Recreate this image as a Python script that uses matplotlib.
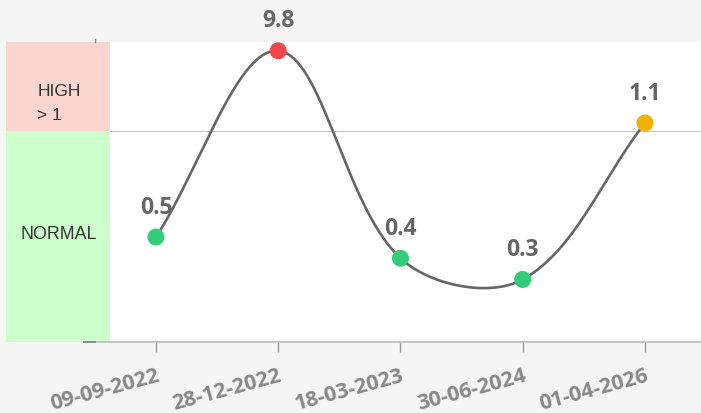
import numpy as np
import matplotlib
matplotlib.use("Agg")
import matplotlib.pyplot as plt
from matplotlib.lines import Line2D

dates = ["09-09-2022", "28-12-2022", "18-03-2023", "30-06-2024", "01-04-2026"]
values = [0.5, 9.8, 0.4, 0.3, 1.1]
point_colors = ["#33cc7a", "#f2464c", "#33cc7a", "#33cc7a", "#f0b400"]
threshold = 1.0

# y scale: linear below the threshold, compressed (1 - 1/v) above it
K = 0.4216

def forward(v):
    v = np.asarray(v, dtype=float)
    safe = np.where(v > threshold, v, 1.0)
    return np.where(v <= threshold, v, threshold + K * (1 - 1 / safe))

def inverse(y):
    y = np.asarray(y, dtype=float)
    r = np.clip((y - threshold) / K, -1e9, 1 - 1e-12)
    return np.where(y <= threshold, y, 1 / (1 - r))

y_top = float(inverse(1.420))
y_bottom = 0.005

W, H = 701, 414
fig = plt.figure(figsize=(W / 100, H / 100), dpi=100)
fig.patch.set_facecolor("#f5f5f5")

def box(x0, y0, x1, y1):
    return [x0 / W, 1 - y1 / H, (x1 - x0) / W, (y1 - y0) / H]

ax = fig.add_axes(box(110, 43, 700, 343))
ax.set_facecolor("white")
ax.set_yscale("function", functions=(forward, inverse))
ax.set_ylim(y_bottom, y_top)
ax.set_xlim(-0.376, 4.45)

x = np.arange(len(dates))

# band panel on the left
band = fig.add_axes(box(6, 43, 110, 343))
band.set_yscale("function", functions=(forward, inverse))
band.set_ylim(y_bottom, y_top)
band.set_xlim(0, 1)
band.axhspan(0, threshold, color="#ccffcc", lw=0)
band.axhspan(threshold, y_top, color="#fbd6d0", lw=0)
band.axis("off")
band.text(0.30, 0.798, "HIGH\n> 1", transform=band.transAxes, ha="left",
          va="center", fontsize=12.5, color="#333333", linespacing=1.75,
          family="Liberation Sans")
band.text(0.51, 0.363, "NORMAL", transform=band.transAxes, ha="center",
          va="center", fontsize=12.8, color="#333333", family="Liberation Sans")

# threshold line
ax.axhline(threshold, color="#c8c8c8", lw=0.9, zorder=1)

for s in ["top", "right", "left"]:
    ax.spines[s].set_visible(False)
ax.spines["bottom"].set_color("#c0c0c0")
ax.spines["bottom"].set_linewidth(1.3)
ax.set_yticks([])
ax.set_xticks(x)
ax.set_xticklabels(dates, rotation=15, ha="right", rotation_mode="anchor",
                   fontsize=15.5, fontweight="bold", color="#888888",
                   family="Open Sans")
ax.tick_params(axis="x", length=7, width=1, color="#999999", pad=9)

# axis line stub running under the band panel
fig.add_artist(Line2D([84 / W, 110 / W], [1 - 343 / H] * 2, color="#c0c0c0", lw=1.3))
fig.add_artist(Line2D([84 / W, 95 / W], [1 - 343 / H] * 2, color="#888888", lw=1.3))
fig.add_artist(Line2D([95 / W, 95 / W], [1 - 43 / H, 1 - 40 / H], color="#888888", lw=1))

# smooth curve: cubic bezier with control points along (next - prev),
# scaled by tension and the relative segment lengths
fig.canvas.draw()
pts = ax.transData.transform(np.column_stack([x, values]))
tension = 0.35
n = len(pts)
before = pts.copy()
after = pts.copy()
for i in range(n):
    prev = pts[max(i - 1, 0)]
    nxt = pts[min(i + 1, n - 1)]
    d01 = np.hypot(*(pts[i] - prev))
    d12 = np.hypot(*(nxt - pts[i]))
    s01 = d01 / (d01 + d12)
    s12 = d12 / (d01 + d12)
    before[i] = pts[i] - tension * s01 * (nxt - prev)
    after[i] = pts[i] + tension * s12 * (nxt - prev)

t = np.linspace(0, 1, 80)[:, None]
curve = []
for i in range(1, n):
    p0, p1, p2, p3 = pts[i - 1], after[i - 1], before[i], pts[i]
    seg = ((1 - t) ** 3) * p0 + 3 * t * (1 - t) ** 2 * p1 + 3 * t ** 2 * (1 - t) * p2 + t ** 3 * p3
    curve.append(seg)
curve = ax.transData.inverted().transform(np.vstack(curve))
ax.plot(curve[:, 0], curve[:, 1], color="#666666", lw=1.9, zorder=2,
        solid_capstyle="round")

ax.scatter(x, values, s=150, c=point_colors, zorder=3, linewidths=0)

for xi, v in zip(x, values):
    ax.annotate(f"{v}", (xi, v), xytext=(0, 17.5), textcoords="offset points",
                ha="center", va="baseline", fontsize=16.5, fontweight="bold",
                color="#666666", family="Open Sans", annotation_clip=False,
                zorder=4)

fig.savefig("out.png", dpi=100, facecolor=fig.get_facecolor())
